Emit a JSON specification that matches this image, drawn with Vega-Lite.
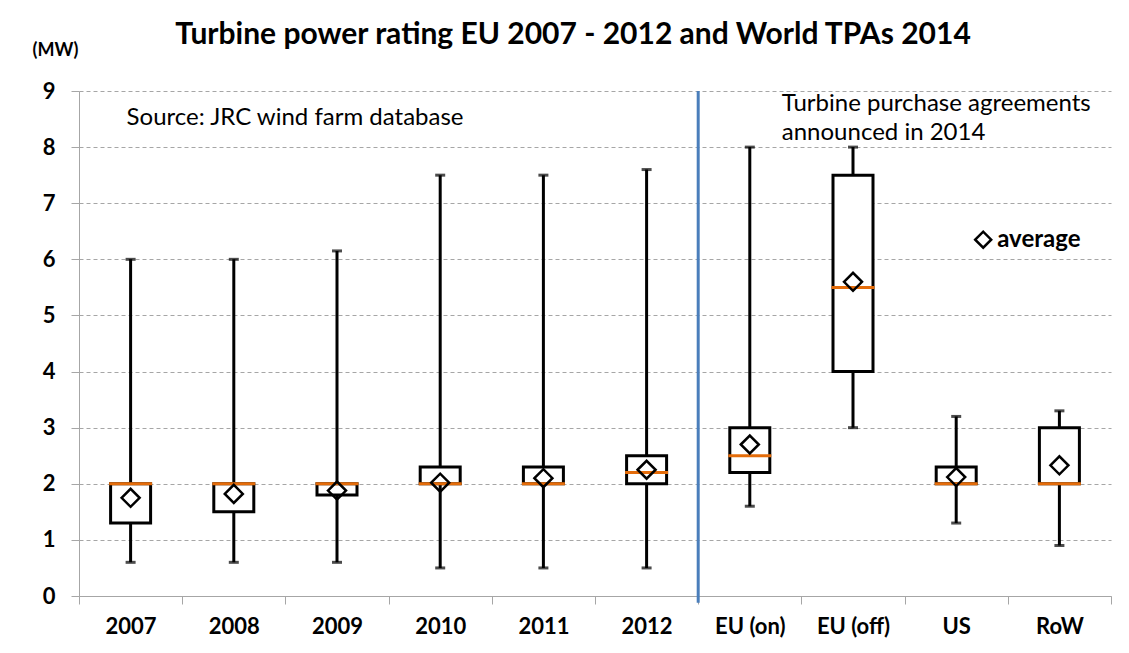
{
  "$schema": "https://vega.github.io/schema/vega-lite/v6.json",
  "width": 1032,
  "height": 505,
  "autosize": {"type": "none"},
  "padding": {"left": 79, "top": 91, "right": 18, "bottom": 57},
  "background": "white",
  "config": {
    "font": "Lato",
    "view": {"stroke": null},
    "title": {"font": "Lato", "fontSize": 30, "fontWeight": "bold", "color": "black"}
  },
  "title": {"text": "Turbine power rating EU 2007 - 2012 and World TPAs 2014", "anchor": "middle", "dx": -22, "offset": -33, "baseline": "alphabetic"},
  "datasets": {
    "boxes": [
      {"cat": "2007", "low": 0.6, "q1": 1.3, "median": 2.0, "q3": 2.0, "high": 6.0, "mean": 1.75},
      {"cat": "2008", "low": 0.6, "q1": 1.5, "median": 2.0, "q3": 2.0, "high": 6.0, "mean": 1.82},
      {"cat": "2009", "low": 0.6, "q1": 1.8, "median": 2.0, "q3": 2.0, "high": 6.15, "mean": 1.88},
      {"cat": "2010", "low": 0.5, "q1": 2.0, "median": 2.0, "q3": 2.3, "high": 7.5, "mean": 2.02},
      {"cat": "2011", "low": 0.5, "q1": 2.0, "median": 2.0, "q3": 2.3, "high": 7.5, "mean": 2.1},
      {"cat": "2012", "low": 0.5, "q1": 2.0, "median": 2.2, "q3": 2.5, "high": 7.6, "mean": 2.25},
      {"cat": "EU (on)", "low": 1.6, "q1": 2.2, "median": 2.5, "q3": 3.0, "high": 8.0, "mean": 2.7},
      {"cat": "EU (off)", "low": 3.0, "q1": 4.0, "median": 5.5, "q3": 7.5, "high": 8.0, "mean": 5.6},
      {"cat": "US", "low": 1.3, "q1": 2.0, "median": 2.0, "q3": 2.3, "high": 3.2, "mean": 2.12},
      {"cat": "RoW", "low": 0.9, "q1": 2.0, "median": 2.0, "q3": 3.0, "high": 3.3, "mean": 2.33}
    ]
  },
  "encoding": {
    "x": {
      "field": "cat", "type": "nominal",
      "sort": ["2007", "2008", "2009", "2010", "2011", "2012", "EU (on)", "EU (off)", "US", "RoW"],
      "scale": {"paddingInner": 0, "paddingOuter": 0},
      "axis": {
        "title": null, "labelAngle": 0, "labelFontSize": 22, "labelFontWeight": "bold", "labelColor": "black",
        "labelPadding": 12, "domainColor": "#a6a6a6", "tickColor": "#a6a6a6", "tickSize": 8, "tickBand": "extent", "grid": false
      }
    }
  },
  "layer": [
    {
      "data": {"name": "boxes"},
      "mark": {"type": "rule", "color": "black", "strokeWidth": 3},
      "encoding": {
        "y": {
          "field": "low", "type": "quantitative",
          "scale": {"domain": [0, 9], "nice": false, "zero": true},
          "axis": {
            "values": [0, 1, 2, 3, 4, 5, 6, 7, 8, 9], "format": "d",
            "title": "(MW)", "titleAngle": 0, "titleX": -24, "titleY": -41, "titleAlign": "center", "titleBaseline": "middle",
            "titleFontSize": 18, "titleFontWeight": "bold", "titleColor": "black",
            "labelFontSize": 22, "labelFontWeight": "bold", "labelColor": "black", "labelPadding": 16,
            "domainColor": "#a6a6a6", "tickColor": "#a6a6a6", "tickSize": 8,
            "grid": true, "gridColor": "#a6a6a6", "gridDash": [4, 3], "gridWidth": 1
          }
        },
        "y2": {"field": "high"}
      }
    },
    {
      "data": {"name": "boxes"},
      "mark": {"type": "tick", "color": "black", "size": 10, "thickness": 3},
      "encoding": {"y": {"field": "low", "type": "quantitative"}}
    },
    {
      "data": {"name": "boxes"},
      "mark": {"type": "tick", "color": "black", "size": 10, "thickness": 3},
      "encoding": {"y": {"field": "high", "type": "quantitative"}}
    },
    {
      "data": {"name": "boxes"},
      "mark": {"type": "bar", "fill": "white", "stroke": "black", "strokeWidth": 3, "size": 40},
      "encoding": {"y": {"field": "q1", "type": "quantitative"}, "y2": {"field": "q3"}}
    },
    {
      "data": {"name": "boxes"},
      "mark": {"type": "tick", "color": "#E46C0A", "size": 43, "thickness": 3, "opacity": 1},
      "encoding": {"y": {"field": "median", "type": "quantitative"}}
    },
    {
      "data": {"name": "boxes"},
      "mark": {"type": "point", "shape": "diamond", "filled": false, "stroke": "black", "strokeWidth": 2.5, "size": 324, "opacity": 1},
      "encoding": {"y": {"field": "mean", "type": "quantitative"}}
    },
    {
      "data": {"values": [{"cat": "EU (on)", "y0": -0.12, "y1": 9}]},
      "mark": {"type": "rule", "color": "#4A7EBB", "strokeWidth": 3},
      "encoding": {
        "x": {"field": "cat", "type": "nominal", "bandPosition": 0},
        "y": {"field": "y0", "type": "quantitative"},
        "y2": {"field": "y1"}
      }
    },
    {
      "data": {"values": [{"cat": "2007", "y": 8.52, "label": "Source: JRC wind farm database"}]},
      "mark": {"type": "text", "align": "left", "baseline": "middle", "dx": -4, "fontSize": 24, "color": "black"},
      "encoding": {"y": {"field": "y", "type": "quantitative"}, "text": {"field": "label"}}
    },
    {
      "data": {"values": [
        {"cat": "EU (on)", "y": 8.77, "label": "Turbine purchase agreements"},
        {"cat": "EU (on)", "y": 8.25, "label": "announced in 2014"}
      ]},
      "mark": {"type": "text", "align": "left", "baseline": "middle", "dx": 32, "fontSize": 24, "color": "black"},
      "encoding": {"y": {"field": "y", "type": "quantitative"}, "text": {"field": "label"}}
    },
    {
      "data": {"values": [{"cat": "US", "y": 6.35, "label": "average"}]},
      "mark": {"type": "point", "shape": "diamond", "filled": false, "stroke": "black", "strokeWidth": 2.5, "size": 256, "xOffset": 27, "opacity": 1},
      "encoding": {"y": {"field": "y", "type": "quantitative"}}
    },
    {
      "data": {"values": [{"cat": "US", "y": 6.35, "label": "average"}]},
      "mark": {"type": "text", "align": "left", "baseline": "middle", "dx": 41, "fontSize": 24, "fontWeight": "bold", "color": "black"},
      "encoding": {"y": {"field": "y", "type": "quantitative"}, "text": {"field": "label"}}
    }
  ]
}
